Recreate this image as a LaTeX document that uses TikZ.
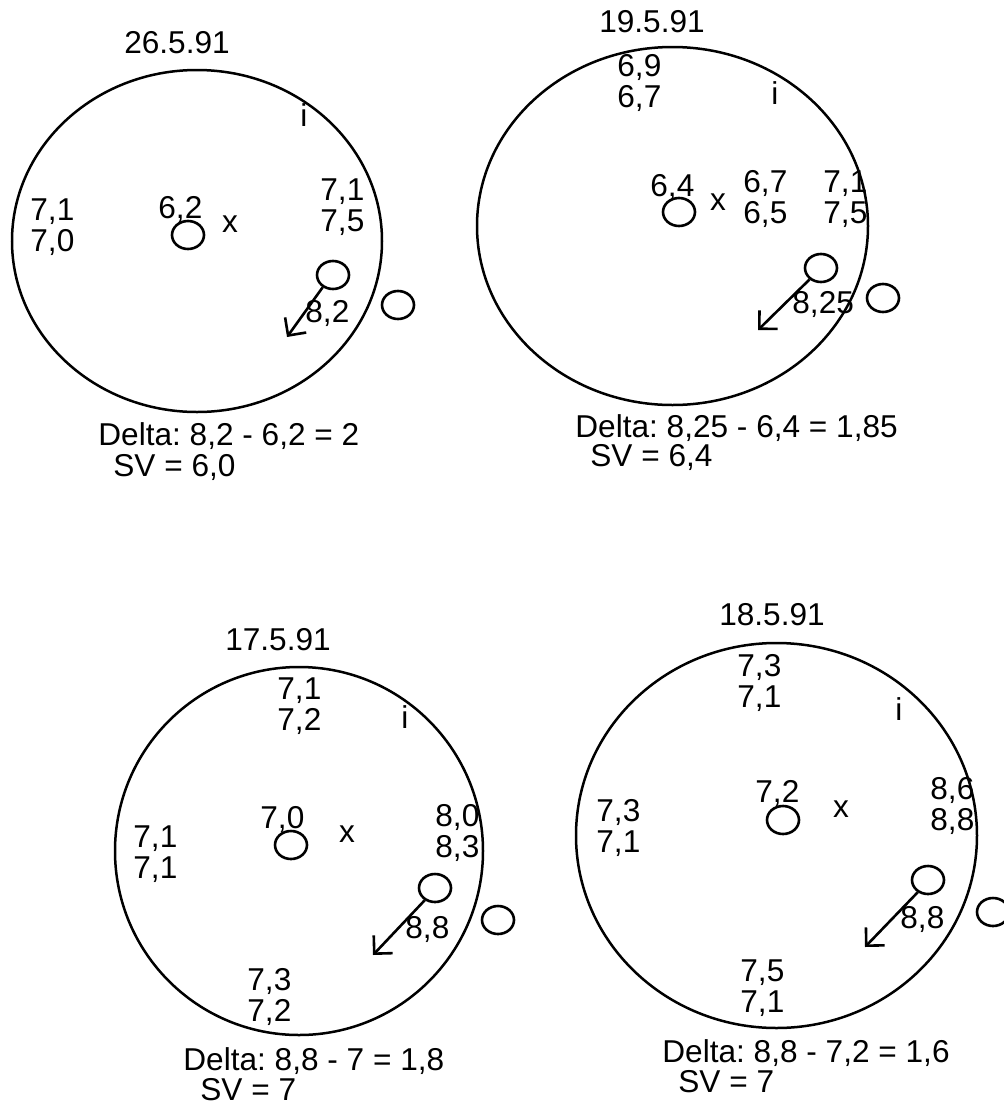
\documentclass[tikz,border=0pt]{standalone}
\usepackage{fontspec}
\setmainfont{Liberation Sans}
\frenchspacing
\usetikzlibrary{shapes.geometric, arrows.meta, positioning}
\tikzset{
    disc/.style={ellipse, draw, line width=1.25pt, inner sep=0pt},
    hole/.style={ellipse, draw, line width=1.3pt, inner sep=0pt,
        minimum width=16pt, minimum height=14pt},
    val/.style={inner sep=0pt, align=left, anchor=base west,
        font=\fontsize{15.8}{15.25}\selectfont},
    mark text/.style={inner sep=0pt, anchor=base, font=\fontsize{15.8}{15.25}\selectfont},
    arrow/.style={-{Straight Barb[length=6.5pt, width=13pt]}, line width=1.3pt}
}

\begin{document}
\begin{tikzpicture}[x=0.5pt, y=-0.5pt]
    \useasboundingbox (0,0) rectangle (1003,1104);

    % Panel 1: 26.5.91
    \node[disc, minimum width=185pt, minimum height=171pt] (disc1) at (197,241) {};
    \node[mark text] (date1) at (177,53) {26.5.91};
    \node[mark text] (i1) at (304,126) {i};
    \node[val] (left1) at (30,251) {7,1\\7,0};
    \node[val] (mid1) at (158,218) {6,2};
    \node[hole] (hole1) at (188,235) {};
    \node[mark text] (x1) at (230,232) {x};
    \node[val] (right1) at (320,231) {7,1\\7,5};
    \node[hole] (inner1) at (333,275) {};
    \node[hole] (outer1) at (398,305) {};
    \coordinate (tip1) at (287,337);
    \draw[arrow] (inner1.230) -- (tip1);
    \node[val] (edge1) at (305,322) {8,2};
    \node[val] (delta1) at (98,445) {Delta: 8,2 - 6,2 = 2};
    \node[val] (sv1) at (113,476) {SV = 6,0};

    % Panel 2: 19.5.91
    \node[disc, minimum width=195.5pt, minimum height=179pt] (disc2) at (672.5,226) {};
    \node[mark text] (date2) at (652,32) {19.5.91};
    \node[val] (top2) at (617,107) {6,9\\6,7};
    \node[mark text] (i2) at (775,104) {i};
    \node[val] (mid2) at (650,196) {6,4};
    \node[hole] (hole2) at (679,212) {};
    \node[mark text] (x2) at (718,210) {x};
    \node[val] (near2) at (743,223) {6,7\\6,5};
    \node[val] (right2) at (823,223) {7,1\\7,5};
    \node[hole] (inner2) at (821,268) {};
    \node[hole] (outer2) at (883,298) {};
    \coordinate (tip2) at (758,330);
    \draw[arrow] (inner2.225) -- (tip2);
    \node[val] (edge2) at (792,313) {8,25};
    \node[val] (delta2) at (575,437) {Delta: 8,25 - 6,4 = 1,85};
    \node[val] (sv2) at (590,466) {SV = 6,4};

    % Panel 3: 17.5.91
    \node[disc, minimum width=184pt, minimum height=184pt] (disc3) at (299,851) {};
    \node[mark text] (date3) at (278,650) {17.5.91};
    \node[val] (top3) at (277,730) {7,1\\7,2};
    \node[mark text] (i3) at (405,728) {i};
    \node[val] (mid3) at (260,828) {7,0};
    \node[hole] (hole3) at (291,845) {};
    \node[mark text] (x3) at (347,842) {x};
    \node[val] (left3) at (133,878) {7,1\\7,1};
    \node[val] (right3) at (435,857) {8,0\\8,3};
    \node[hole] (inner3) at (435,888) {};
    \node[hole] (outer3) at (498,920) {};
    \coordinate (tip3) at (373,955);
    \draw[arrow] (inner3.230) -- (tip3);
    \node[val] (edge3) at (405,938) {8,8};
    \node[val] (bottom3) at (247,1021) {7,3\\7,2};
    \node[val] (delta3) at (183,1070) {Delta: 8,8 - 7 = 1,8};
    \node[val] (sv3) at (200,1100) {SV = 7};

    % Panel 4: 18.5.91
    \node[disc, minimum width=200.5pt, minimum height=192.5pt] (disc4) at (776.5,835.5) {};
    \node[mark text] (date4) at (772,625) {18.5.91};
    \node[val] (top4) at (737,707) {7,3\\7,1};
    \node[mark text] (i4) at (899,720) {i};
    \node[val] (mid4) at (755,802) {7,2};
    \node[hole] (hole4) at (783,820) {};
    \node[mark text] (x4) at (841,817) {x};
    \node[val] (left4) at (596,852) {7,3\\7,1};
    \node[val] (right4) at (930,830) {8,6\\8,8};
    \node[hole] (inner4) at (928,880) {};
    \node[hole] (outer4) at (993,912) {};
    \coordinate (tip4) at (865,947);
    \draw[arrow] (inner4.230) -- (tip4);
    \node[val] (edge4) at (900,928) {8,8};
    \node[val] (bottom4) at (740,1012) {7,5\\7,1};
    \node[val] (delta4) at (662,1062) {Delta: 8,8 - 7,2 = 1,6};
    \node[val] (sv4) at (678,1092) {SV = 7};

\end{tikzpicture}
\end{document}
